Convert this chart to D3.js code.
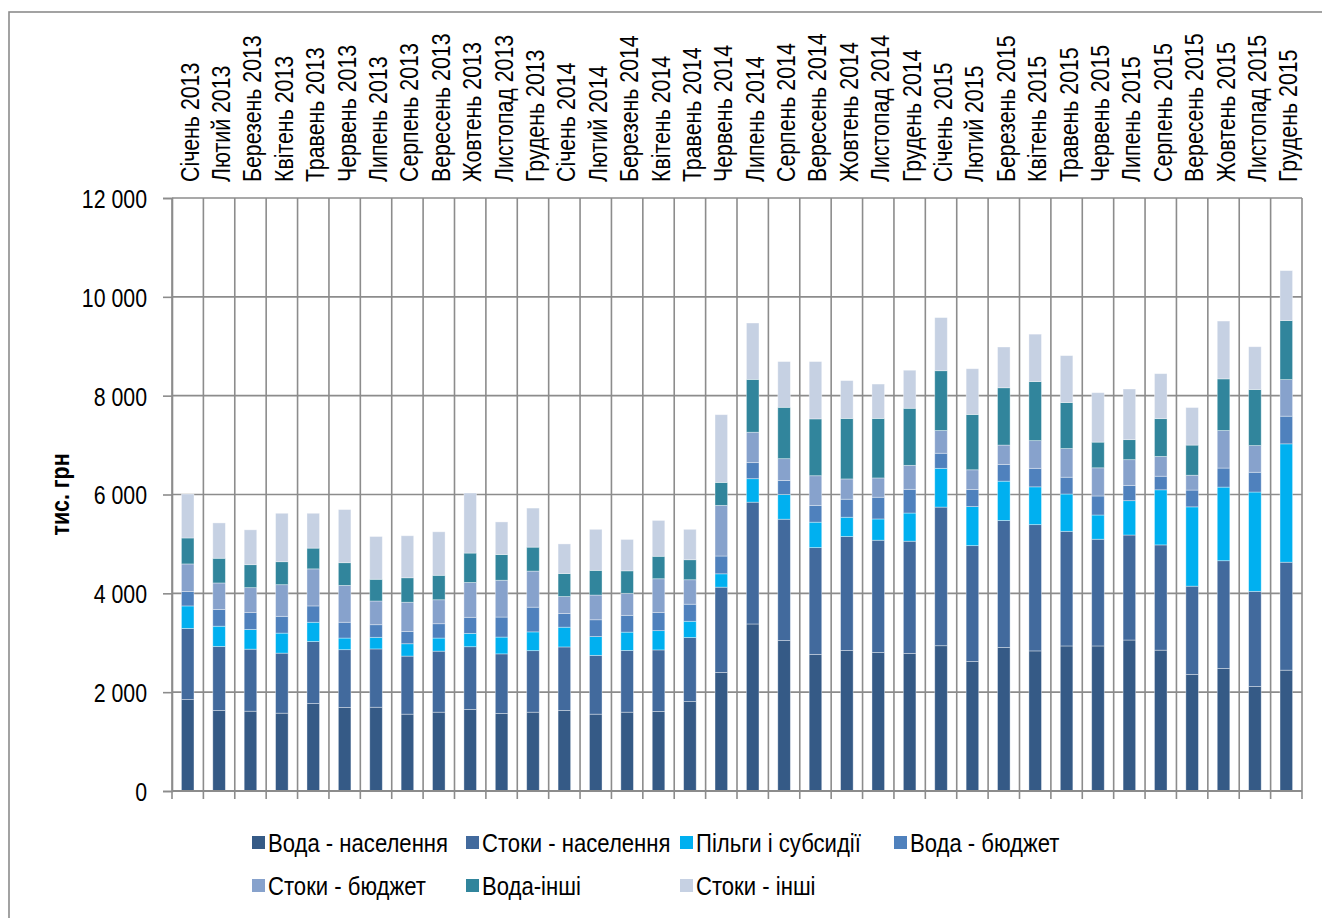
<!DOCTYPE html>
<html>
<head>
<meta charset="utf-8">
<script src="https://cdn.jsdelivr.net/npm/d3@7"></script>
<style>
  body { margin: 0; background: #fff; }
  svg { display: block; }
</style>
</head>
<body>
<svg id="chart" width="1322" height="918"></svg>
<script>
// Місяці (категорії осі X)
const months = [
  "Січень 2013","Лютий 2013","Березень 2013","Квітень 2013","Травень 2013","Червень 2013",
  "Липень 2013","Серпень 2013","Вересень 2013","Жовтень 2013","Листопад 2013","Грудень 2013",
  "Січень 2014","Лютий 2014","Березень 2014","Квітень 2014","Травень 2014","Червень 2014",
  "Липень 2014","Серпень 2014","Вересень 2014","Жовтень 2014","Листопад 2014","Грудень 2014",
  "Січень 2015","Лютий 2015","Березень 2015","Квітень 2015","Травень 2015","Червень 2015",
  "Липень 2015","Серпень 2015","Вересень 2015","Жовтень 2015","Листопад 2015","Грудень 2015"
];

// Надходження, тис. грн
const vodaNaselennia = [1850,1630,1615,1575,1770,1690,1695,1555,1595,1650,1570,1595,
                        1630,1555,1595,1610,1810,2400,3380,3045,2765,2845,2805,2785,
                        2940,2620,2905,2835,2935,2935,3055,2850,2360,2480,2115,2445];
const stokyNaselennia = [1440,1295,1255,1215,1255,1170,1180,1175,1235,1270,1205,1245,
                         1285,1190,1250,1245,1295,1725,2465,2455,2160,2305,2270,2270,
                         2805,2345,2570,2555,2320,2160,2125,2130,1785,2180,1925,2185];
const pilhySubsydii = [455,410,400,405,390,235,235,250,265,270,340,380,
                       400,380,370,390,330,270,475,500,515,390,430,570,
                       785,790,795,765,755,490,695,1115,1605,1490,2010,2395];
const vodaBiudzhet = [290,340,345,340,330,320,255,250,290,325,405,500,
                      275,340,340,370,345,360,325,285,340,365,440,480,
                      305,345,340,375,340,385,310,275,340,385,400,560];
const stokyBiudzhet = [560,535,500,640,750,745,480,590,485,705,745,730,
                       345,500,445,680,495,1025,615,440,600,410,390,485,
                       460,400,390,560,580,570,520,400,300,760,540,740];
const vodaInshi = [525,500,465,465,420,460,440,495,495,595,520,485,
                   465,500,455,455,405,465,1070,1040,1150,1225,1205,1155,
                   1210,1120,1160,1195,930,520,405,765,610,1045,1135,1195];
const stokyInshi = [890,715,705,980,705,1075,865,850,880,1215,660,790,
                    600,830,635,725,615,1370,1140,925,1160,765,695,770,
                    1075,925,825,960,950,1000,1025,910,760,1170,865,1010];

const seriesNames = ["Вода - населення","Стоки - населення","Пільги і субсидії","Вода - бюджет",
                     "Стоки - бюджет","Вода-інші","Стоки - інші"];
const seriesValues = [vodaNaselennia, stokyNaselennia, pilhySubsydii, vodaBiudzhet,
                      stokyBiudzhet, vodaInshi, stokyInshi];
const seriesColors = ["#355a86","#426a9d","#00b0f0","#4f81bd","#87a2cc","#31859c","#c6d1e3"];

const yTicks = [0, 2000, 4000, 6000, 8000, 10000, 12000];
const yTitle = "тис. грн";

// ---- Оформлення ----
const FONT = "'Liberation Sans', Arial, sans-serif";
const GRID = "#8c8c8c";

const svg = d3.select("#chart");

// Стиснути текст по ширині, як у вузькому шрифті
function condense(k) {
  return sel => sel.each(function () {
    const L = this.getComputedTextLength();
    this.setAttribute("textLength", (L * k).toFixed(2));
    this.setAttribute("lengthAdjust", "spacingAndGlyphs");
  });
}

// Рамка області діаграми
svg.append("rect")
  .attr("x", 9).attr("y", 12).attr("width", 1340).attr("height", 940)
  .attr("fill", "none").attr("stroke", GRID).attr("stroke-width", 1.6);

const plot = { left: 172, right: 1302, top: 198, bottom: 791 };

const x = d3.scaleBand().domain(months)
  .range([plot.left, plot.right]).paddingInner(0.6).paddingOuter(0.3);
const y = d3.scaleLinear().domain([0, 12000]).range([plot.bottom, plot.top]);

// Горизонтальна сітка
svg.append("g").selectAll("line").data(yTicks).join("line")
  .attr("x1", plot.left).attr("x2", plot.right)
  .attr("y1", d => y(d)).attr("y2", d => y(d))
  .attr("stroke", GRID).attr("stroke-width", 1.6);

// Вертикальна сітка між категоріями (з засічками під віссю)
const step = x.step();
const bounds = d3.range(months.length + 1).map(i => plot.left + i * step);
svg.append("g").selectAll("line").data(bounds).join("line")
  .attr("x1", d => d).attr("x2", d => d)
  .attr("y1", plot.top).attr("y2", plot.bottom + 8)
  .attr("stroke", GRID).attr("stroke-width", 1.6);

// Стовпці з накопиченням
const keys = seriesNames;
const rows = months.map((m, i) => {
  const r = { month: m };
  keys.forEach((k, j) => { r[k] = seriesValues[j][i]; });
  return r;
});
const stacked = d3.stack().keys(keys)(rows);

svg.append("g").selectAll("g").data(stacked).join("g")
  .attr("fill", (d, i) => seriesColors[i])
  .selectAll("rect").data(d => d).join("rect")
  .attr("x", d => x(d.data.month))
  .attr("width", x.bandwidth())
  .attr("y", d => y(d[1]))
  .attr("height", d => y(d[0]) - y(d[1]))
  .attr("stroke", "rgba(255,255,255,0.45)")
  .attr("stroke-width", 0.8);

// Вісь Y
const fmt = d3.formatLocale({ decimal: ",", thousands: " ", grouping: [3], currency: ["", ""] }).format(",");
const yAxis = svg.append("g")
  .attr("transform", `translate(${plot.left},0)`)
  .call(d3.axisLeft(y).tickValues(yTicks).tickFormat(fmt).tickSize(9).tickPadding(16));
yAxis.select(".domain").attr("stroke", GRID).attr("stroke-width", 1.6);
yAxis.selectAll(".tick line").attr("stroke", GRID).attr("stroke-width", 1.6);
yAxis.selectAll(".tick text")
  .attr("font-family", FONT).attr("font-size", 26).attr("fill", "#000")
  .attr("dy", "0.36em")
  .call(condense(0.82));

// Нижня лінія осі X
svg.append("line")
  .attr("x1", plot.left).attr("x2", plot.right)
  .attr("y1", plot.bottom).attr("y2", plot.bottom)
  .attr("stroke", GRID).attr("stroke-width", 1.8);

// Підписи місяців (вертикально, над діаграмою)
svg.append("g").selectAll("text").data(months).join("text")
  .attr("transform", d => `translate(${x(d) + x.bandwidth() / 2 + 11},182) rotate(-90)`)
  .attr("font-family", FONT).attr("font-size", 26).attr("fill", "#000")
  .attr("text-anchor", "start")
  .text(d => d)
  .call(condense(0.82));

// Назва осі Y
svg.append("text")
  .attr("transform", `translate(68.5,${(plot.top + plot.bottom) / 2}) rotate(-90)`)
  .attr("font-family", FONT).attr("font-size", 26).attr("font-weight", "bold")
  .attr("text-anchor", "middle").attr("fill", "#000")
  .text(yTitle)
  .call(condense(0.82));

// Легенда
const legendCols = 4, colW = 214, legendX = 252, rowY = [836, 879], sw = 13;
const legend = svg.append("g").selectAll("g").data(seriesNames).join("g")
  .attr("transform", (d, i) => `translate(${legendX + (i % legendCols) * colW},${rowY[Math.floor(i / legendCols)]})`);
legend.append("rect")
  .attr("width", sw).attr("height", sw)
  .attr("fill", (d, i) => seriesColors[i]);
legend.append("text")
  .attr("x", 16).attr("y", sw / 2).attr("dy", "0.36em")
  .attr("font-family", FONT).attr("font-size", 26).attr("fill", "#000")
  .text(d => d)
  .call(condense(0.85));
</script>
</body>
</html>
